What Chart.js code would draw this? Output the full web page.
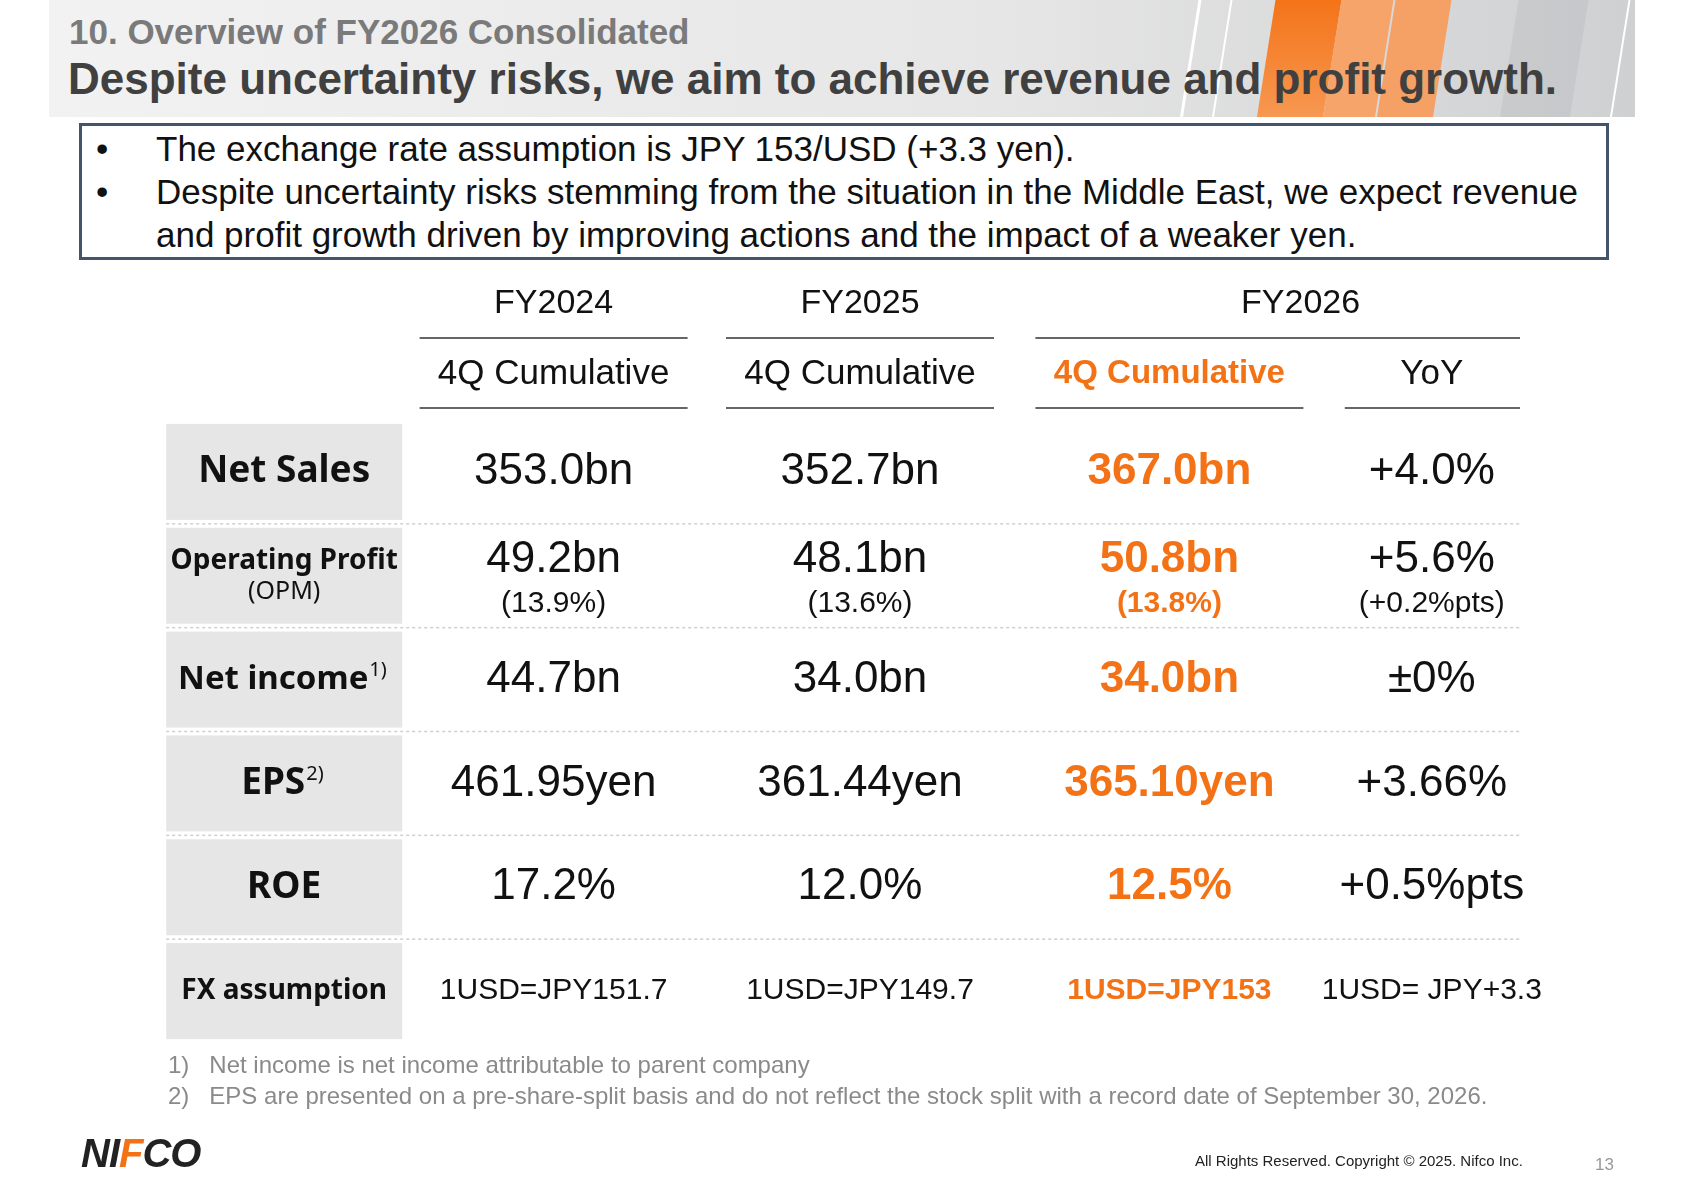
<!DOCTYPE html>
<html><head><meta charset="utf-8">
<script src="https://cdn.jsdelivr.net/npm/chart.js@4"></script>
<style>
html,body{margin:0;padding:0;width:1683px;height:1190px;background:#fff;overflow:hidden;font-family:"Liberation Sans",Arial,sans-serif}
#c{position:absolute;left:0;top:0}
.abs{position:absolute}
#band{left:49px;top:0;height:117px;background:linear-gradient(90deg,#f2f2f2 0%,#e6e6e6 60%,#cfd0d2 100%);overflow:hidden}
.stripe{position:absolute;top:-5px;height:130px;transform:skewX(-9deg)}
</style></head><body>
<div id="band" class="abs" style="width:1586px">
  <div class="stripe" style="left:1217px;width:66px;background:linear-gradient(180deg,#f47216,#f79a55)"></div>
  <div class="stripe" style="left:1283px;width:52px;background:#f6a469"></div>
  <div class="stripe" style="left:1337px;width:56px;background:#f5a064"></div>
  <div class="stripe" style="left:1140px;width:3px;background:#fff"></div>
  <div class="stripe" style="left:1172px;width:2px;background:#fff"></div>
  <div class="stripe" style="left:1570px;width:2px;background:#fff"></div>
  <div class="stripe" style="left:1460px;width:70px;background:rgba(180,182,186,0.35)"></div>
</div>
<div class="abs" style="left:69px;top:12px;font-size:35px;font-weight:bold;color:#7a7a7a">10. Overview of FY2026 Consolidated</div>
<div class="abs" style="left:68px;top:54px;font-size:44px;font-weight:bold;color:#404040">Despite uncertainty risks, we aim to achieve revenue and profit growth.</div>
<div class="abs" style="left:79px;top:123px;width:1524px;height:131px;border:3px solid #44546a;"></div>
<div class="abs" style="left:96px;top:127px;font-size:35px;line-height:43px;color:#111">
  <div><span style="display:inline-block;width:60px">•</span>The exchange rate assumption is JPY 153/USD (+3.3 yen).</div>
  <div><span style="display:inline-block;width:60px">•</span>Despite uncertainty risks stemming from the situation in the Middle East, we expect revenue</div>
  <div><span style="display:inline-block;width:60px"></span>and profit growth driven by improving actions and the impact of a weaker yen.</div>
</div>
<canvas id="c" width="1683" height="1190"></canvas>
<div class="abs" style="left:168px;top:1049px;font-size:24px;line-height:31px;color:#8a8a8a">
  <div>1)&nbsp;&nbsp;&nbsp;Net income is net income attributable to parent company</div>
  <div>2)&nbsp;&nbsp;&nbsp;EPS are presented on a pre-share-split basis and do not reflect the stock split with a record date of September 30, 2026.</div>
</div>
<div class="abs" style="left:81px;top:1131px;font-size:40px;font-weight:900;font-style:italic;color:#222;letter-spacing:-1px">NI<span style="color:#f47216">F</span>CO</div>
<div class="abs" style="left:1195px;top:1152px;font-size:15px;color:#222">All Rights Reserved. Copyright © 2025. Nifco Inc.</div>
<div class="abs" style="left:1595px;top:1155px;font-size:17px;color:#999">13</div>
<script>
const columns = ['label','FY2024','FY2025','FY2026','YoY'];
const rowLabels = ['Net Sales','Operating Profit','Net income','EPS','ROE','FX assumption'];
const rowSubLabels = ['','(OPM)','','','',''];
const rowSup = ['','','1)','2)','',''];
const fy2024 = ['353.0bn','49.2bn','44.7bn','461.95yen','17.2%','1USD=JPY151.7'];
const fy2025 = ['352.7bn','48.1bn','34.0bn','361.44yen','12.0%','1USD=JPY149.7'];
const fy2026 = ['367.0bn','50.8bn','34.0bn','365.10yen','12.5%','1USD=JPY153'];
const yoy = ['+4.0%','+5.6%','±0%','+3.66%','+0.5%pts','1USD= JPY+3.3'];
const fy2024Sub = ['','(13.9%)','','','',''];
const fy2025Sub = ['','(13.6%)','','','',''];
const fy2026Sub = ['','(13.8%)','','','',''];
const yoySub = ['','(+0.2%pts)','','','',''];
const headerTop = ['', 'FY2024','FY2025','FY2026',''];
const headerSub = ['', '4Q Cumulative','4Q Cumulative','4Q Cumulative','YoY'];

const ORANGE='#f47216';
const colShift=[0,-19,-1,20,-6];
const labelFont=['37px','28px','33px','37px','37px','28px'];
const valueCols=[fy2024,fy2025,fy2026,yoy];
const subCols=[fy2024Sub,fy2025Sub,fy2026Sub,yoySub];
const points=[];
rowLabels.forEach((r,i)=>{columns.forEach((c,j)=>points.push({x:c,y:r,ri:i,cj:j}));});

const tablePlugin={id:'table',afterDatasetsDraw(chart){
  const ctx=chart.ctx, xs=chart.scales.x, ys=chart.scales.y;
  const rowH=ys.getPixelForValue(1)-ys.getPixelForValue(0);
  const x0=xs.getPixelForValue(0);
  const left=x0-118, right=1520;
  ctx.save();
  ctx.textAlign='center';ctx.textBaseline='middle';
  const top=ys.getPixelForValue(0)-rowH/2;
  const line=(a,b,y)=>{ctx.strokeStyle='#333';ctx.lineWidth=1.5;ctx.beginPath();ctx.moveTo(a,y);ctx.lineTo(b,y);ctx.stroke();};
  const cx=j=>xs.getPixelForValue(j)+colShift[j];
  ctx.font='34px "Liberation Sans"';ctx.fillStyle='#111';
  [1,2].forEach(j=>{ctx.fillText(headerTop[j],cx(j),top-116);line(cx(j)-134,cx(j)+134,top-82);});
  ctx.fillText(headerTop[3],(cx(3)+cx(4))/2,top-116);line(cx(3)-134,right,top-82);
  [1,2,3,4].forEach(j=>{
    ctx.font=(j===3?'bold 33px':'35px')+' "Liberation Sans"';ctx.fillStyle=j===3?ORANGE:'#111';
    ctx.fillText(headerSub[j],cx(j),top-46);
  });
  line(cx(1)-134,cx(1)+134,top-12);line(cx(2)-134,cx(2)+134,top-12);
  line(cx(3)-134,cx(3)+134,top-12);line(cx(4)-87,right,top-12);
  chart.getDatasetMeta(0).data.forEach((el,k)=>{
    const p=points[k], y=el.y;
    if(p.cj===0){
      ctx.fillStyle='#e6e6e6';ctx.fillRect(left,y-48,236,96);
      ctx.fillStyle='#111';
      ctx.font='bold '+labelFont[p.ri]+' "Noto Sans"';
      const ly=p.ri===1?y-15:y;
      const w=ctx.measureText(rowLabels[p.ri]).width;
      const sw=rowSup[p.ri]?22:0;
      ctx.fillText(rowLabels[p.ri],left+118-sw/2,ly);
      if(sw){ctx.font='20px "Noto Sans"';ctx.textAlign='left';ctx.fillText(rowSup[p.ri],left+118-sw/2+w/2+1,ly-9);ctx.textAlign='center';}
      if(rowSubLabels[p.ri]){ctx.font='25px "Noto Sans"';ctx.fillText(rowSubLabels[p.ri],left+118,y+16);}
      if(p.ri<rowLabels.length-1){
        ctx.strokeStyle='#cfcfcf';ctx.lineWidth=1.5;ctx.setLineDash([3,3]);
        ctx.beginPath();ctx.moveTo(left,y+rowH/2);ctx.lineTo(right,y+rowH/2);ctx.stroke();ctx.setLineDash([]);
      }
      return;
    }
    const j=p.cj-1, orange=j===2;
    const x=cx(p.cj);
    ctx.fillStyle=orange?ORANGE:'#111';
    const fx=p.ri===5;
    ctx.font=(orange?'bold ':'')+(fx?'30px':'44px')+' "Liberation Sans"';
    const sub=subCols[j][p.ri];
    ctx.fillText(valueCols[j][p.ri],x,sub?y-16:y);
    if(sub){ctx.font=(orange?'bold ':'')+'30px "Liberation Sans"';ctx.fillText(sub,x,y+28);}
  });
  ctx.restore();
}};

new Chart(document.getElementById('c'),{
  type:'scatter',
  data:{datasets:[{data:points,pointRadius:0,pointHoverRadius:0}]},
  options:{responsive:false,animation:false,events:[],
    layout:{padding:{left:140,right:101,top:420,bottom:147}},
    plugins:{legend:{display:false},tooltip:{enabled:false}},
    scales:{
      x:{type:'category',labels:columns,offset:true,display:false},
      y:{type:'category',labels:rowLabels,offset:true,display:false}
    }},
  plugins:[tablePlugin]
});
</script>
</body></html>
